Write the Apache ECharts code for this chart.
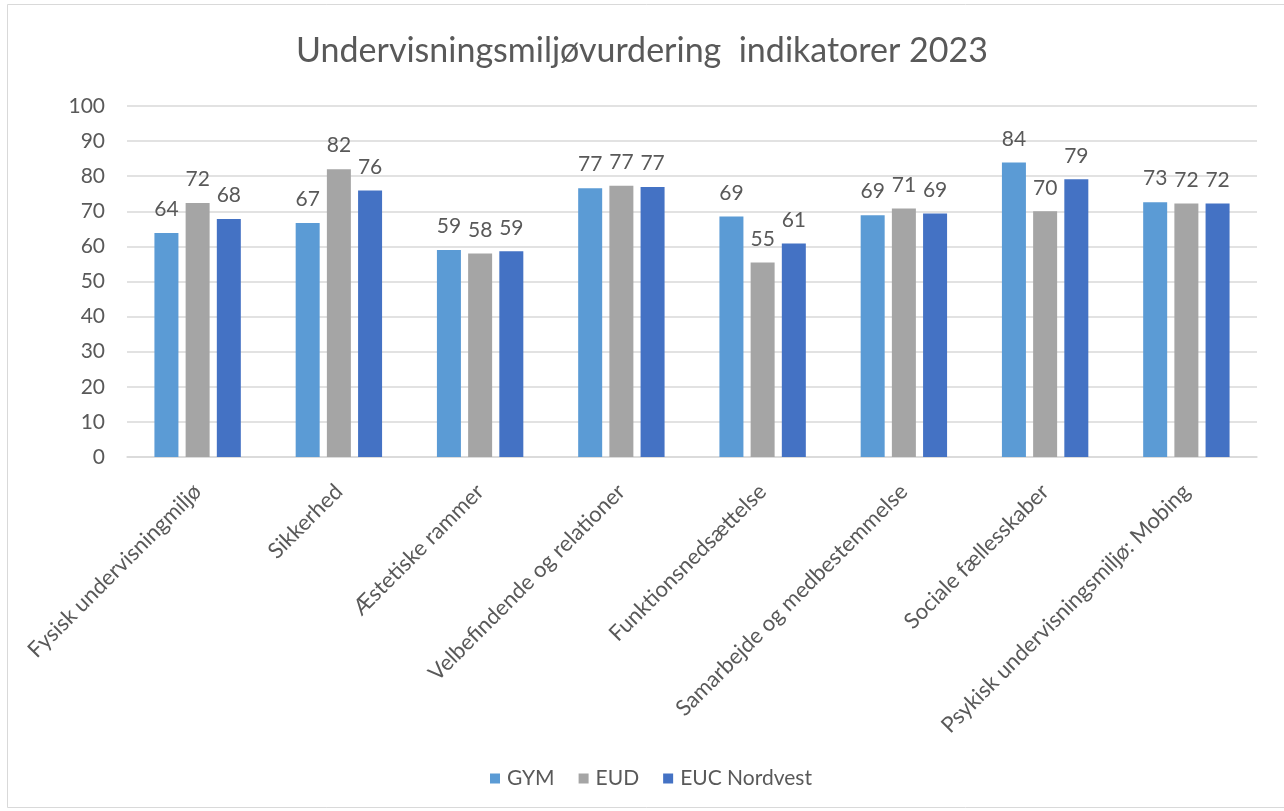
<!DOCTYPE html>
<html>
<head>
<meta charset="utf-8">
<script src="https://cdn.jsdelivr.net/npm/echarts@6/dist/echarts.min.js"></script>
<style>
  html, body { margin: 0; padding: 0; background: #fff; }
  #main { width: 1284px; height: 811px; }
</style>
</head>
<body>
<div id="main"></div>
<script>
var categories = [
    'Fysisk undervisningmiljø',
    'Sikkerhed',
    'Æstetiske rammer',
    'Velbefindende og relationer',
    'Funktionsnedsættelse',
    'Samarbejde og medbestemmelse',
    'Sociale fællesskaber',
    'Psykisk undervisningsmiljø: Mobing'
];
var seriesNames = ['GYM', 'EUD', 'EUC Nordvest'];
var gymValues = [63.8, 66.7, 59.0, 76.6, 68.5, 68.9, 83.9, 72.6];
var eudValues = [72.4, 82.0, 58.0, 77.3, 55.4, 70.8, 70.0, 72.2];
var eucValues = [67.8, 75.9, 58.6, 76.9, 60.8, 69.4, 79.1, 72.2];
var yTicks = { min: 0, max: 100, interval: 10 };

var colors = ['#5B9BD5', '#A5A5A5', '#4472C4'];
var font = 'Lato, "Noto Sans", sans-serif';
var textColor = '#595959';

function makeSeries(name, values, color) {
    return {
        name: name,
        type: 'bar',
        data: values,
        barWidth: 24,
        barGap: '30%',
        itemStyle: { color: color },
        label: {
            show: true,
            position: 'top',
            distance: 13,
            color: textColor,
            fontFamily: font,
            fontSize: 21,
            formatter: function (p) { return Math.round(p.value); }
        }
    };
}

var myChart = echarts.init(document.getElementById('main'));
myChart.setOption({
    animation: false,
    backgroundColor: '#fff',
    color: colors,
    graphic: [{
        type: 'rect',
        shape: { x: 7.5, y: 4.5, width: 1290, height: 803 },
        style: { fill: 'none', stroke: '#D9D9D9', lineWidth: 1 },
        silent: true
    }],
    title: {
        text: 'Undervisningsmiljøvurdering  indikatorer 2023',
        left: 'center',
        top: 29,
        textStyle: {
            color: textColor,
            fontFamily: font,
            fontSize: 34,
            fontWeight: 'normal'
        }
    },
    legend: {
        bottom: 17,
        left: 485,
        itemWidth: 10,
        itemHeight: 10,
        itemGap: 24,
        icon: 'rect',
        textStyle: { color: textColor, fontFamily: font, fontSize: 21, padding: [0, 0, 0, 2] },
        data: seriesNames
    },
    grid: {
        left: 127,
        right: 27,
        top: 106,
        bottom: 354,
        containLabel: false
    },
    xAxis: {
        type: 'category',
        data: categories,
        axisLine: { lineStyle: { color: '#D9D9D9', width: 1.5 } },
        axisTick: { show: false },
        axisLabel: {
            rotate: 45,
            interval: 0,
            margin: 31,
            color: textColor,
            fontFamily: font,
            fontSize: 22
        }
    },
    yAxis: {
        type: 'value',
        min: yTicks.min,
        max: yTicks.max,
        interval: yTicks.interval,
        axisLine: { show: false },
        axisTick: { show: false },
        axisLabel: {
            margin: 22,
            color: textColor,
            fontFamily: font,
            fontSize: 21
        },
        splitLine: { lineStyle: { color: '#D9D9D9', width: 1.5 } }
    },
    series: [
        makeSeries(seriesNames[0], gymValues, colors[0]),
        makeSeries(seriesNames[1], eudValues, colors[1]),
        makeSeries(seriesNames[2], eucValues, colors[2])
    ]
});
</script>
</body>
</html>
